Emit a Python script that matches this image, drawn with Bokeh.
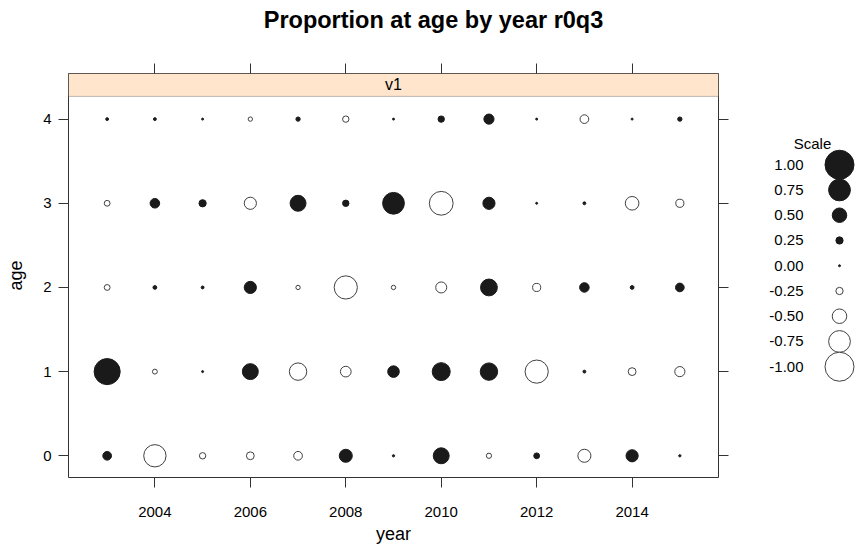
from bokeh.plotting import figure
from bokeh.models import Range1d, FixedTicker, LinearAxis, BoxAnnotation, Label, ColumnDataSource, CustomJSTickFormatter
from bokeh.layouts import column, row
from bokeh.embed import file_html
from bokeh.resources import INLINE
from bokeh.core.properties import value

# ---------------- data ----------------
years = [2003, 2004, 2005, 2006, 2007, 2008, 2009, 2010, 2011, 2012, 2013, 2014, 2015]
ages = [0, 1, 2, 3, 4]
age0 = [0.30, -0.77, -0.22, -0.27, -0.30, 0.45, 0.08, 0.55, -0.18, 0.20, -0.45, 0.42, 0.08]
age1 = [0.90, -0.17, 0.03, 0.55, -0.60, -0.37, 0.40, 0.62, 0.60, -0.80, 0.10, -0.27, -0.35]
age2 = [-0.20, 0.13, 0.10, 0.42, -0.15, -0.80, -0.15, -0.38, 0.58, -0.28, 0.33, 0.13, 0.30]
age3 = [-0.20, 0.33, 0.25, -0.42, 0.55, 0.22, 0.75, -0.82, 0.42, 0.05, 0.10, -0.47, -0.28]
age4 = [0.10, 0.10, 0.04, -0.15, 0.15, -0.22, 0.04, 0.22, 0.35, 0.04, -0.30, 0.04, 0.15]
scale_values = [1.00, 0.75, 0.50, 0.25, 0.00, -0.25, -0.50, -0.75, -1.00]
scale_labels = ["1.00", "0.75", "0.50", "0.25", "0.00", "-0.25", "-0.50", "-0.75", "-1.00"]
x_ticks = [2004, 2006, 2008, 2010, 2012, 2014]
y_ticks = [0, 1, 2, 3, 4]
title_text = "Proportion at age by year r0q3"
strip_text = "v1"

FONT = "Liberation Sans"
MAXD = 29.0
POS_FILL = "#1a1a1a"
NEG_FILL = "white"
NEG_LINE = "#404040"


def diam(v):
    return max(MAXD * abs(v), 2.0)


def colors(vals):
    fills = [POS_FILL if v >= 0 else NEG_FILL for v in vals]
    lines = [POS_FILL if v >= 0 else NEG_LINE for v in vals]
    return fills, lines


xs, ys, vs = [], [], []
for a, rv in zip(ages, [age0, age1, age2, age3, age4]):
    for yr, v in zip(years, rv):
        xs.append(yr)
        ys.append(a)
        vs.append(v)
fills, lines = colors(vs)
src = ColumnDataSource(dict(x=xs, y=ys, size=[diam(v) for v in vs], fill=fills, line=lines))

# ---------------- title ----------------
tf = figure(width=855, height=53, x_range=Range1d(0, 855), y_range=Range1d(53, 0),
            toolbar_location=None, output_backend="svg", min_border=0,
            x_axis_location=None, y_axis_location=None)
tf.grid.visible = False
tf.outline_line_color = None
tf.text(x=[433], y=[19], text=[title_text], text_font=value(FONT), text_font_size="23.5px",
        text_font_style="bold", text_align="center", text_baseline="middle", text_color="black")

# ---------------- main panel ----------------
p = figure(width=748, height=496, x_range=Range1d(2002.19, 2015.81), y_range=Range1d(-0.258, 4.542),
           toolbar_location=None, output_backend="svg",
           min_border_left=68, min_border_right=30, min_border_top=20, min_border_bottom=72)
p.grid.visible = False
p.outline_line_color = "#333333"
p.outline_line_width = 1

strip_bottom = 4.27
p.add_layout(BoxAnnotation(bottom=strip_bottom, fill_color="#FFE5CC", fill_alpha=1.0,
                           line_color="#333333", line_width=1, level="underlay"))
p.add_layout(Label(x=(2002.19 + 2015.81) / 2, y=(strip_bottom + 4.542) / 2, text=strip_text,
                   text_font=FONT, text_font_size="16px", text_align="center",
                   text_baseline="middle", text_color="black"))

p.scatter("x", "y", size="size", source=src, marker="circle", fill_color="fill",
          line_color="line", line_width=1)

blank = CustomJSTickFormatter(code="return ''")


def style_axis(ax, ticks, labels=True):
    ax.ticker = FixedTicker(ticks=ticks)
    ax.minor_tick_line_color = None
    ax.major_tick_in = 0
    ax.major_tick_out = 10
    ax.major_tick_line_color = "#333333"
    ax.axis_line_color = None
    ax.major_label_text_font = FONT
    ax.major_label_text_font_size = "15px"
    ax.major_label_text_color = "black"
    ax.axis_label_text_font = FONT
    ax.axis_label_text_font_size = "18px"
    ax.axis_label_text_font_style = "normal"
    ax.axis_label_text_color = "black"
    if not labels:
        ax.formatter = blank
        ax.major_label_text_font_size = "0px"
        ax.major_label_standoff = 0


xb = p.xaxis[0]
style_axis(xb, x_ticks)
xb.axis_label = "year"
xb.major_label_standoff = 19
xb.axis_label_standoff = 4

yl = p.yaxis[0]
style_axis(yl, y_ticks)
yl.axis_label = "age"
yl.major_label_standoff = 7
yl.axis_label_standoff = 14

xt = LinearAxis()
style_axis(xt, x_ticks, labels=False)
p.add_layout(xt, "above")
yr_ax = LinearAxis()
style_axis(yr_ax, y_ticks, labels=False)
p.add_layout(yr_ax, "right")

# ---------------- key ----------------
lg = figure(width=107, height=496, x_range=Range1d(748, 855), y_range=Range1d(549, 53),
            toolbar_location=None, output_backend="svg", min_border=0,
            x_axis_location=None, y_axis_location=None)
lg.grid.visible = False
lg.outline_line_color = None
row_y = [165 + 31 * i for i in range(len(scale_values))]
lf, ll = colors(scale_values)
lg.scatter(x=[839] * len(scale_values), y=row_y, size=[diam(v) for v in scale_values],
           marker="circle", fill_color=lf, line_color=ll, line_width=1)
lg.text(x=[803] * len(scale_values), y=row_y, text=scale_labels, text_font=value(FONT),
        text_font_size="15px", text_align="right", text_baseline="middle", text_color="black")
lg.text(x=[812], y=[139], text=["Scale"], text_font=value(FONT), text_font_size="15px",
        text_align="center", text_baseline="middle", text_color="black")

layout = column(tf, row(p, lg))
open("out.html", "w").write(file_html(layout, INLINE))
